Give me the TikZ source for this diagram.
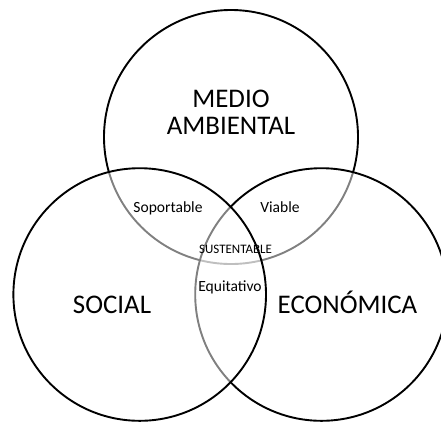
\documentclass[tikz,border=0pt]{standalone}
\usepackage{fontspec}
\setmainfont{Carlito}
\begin{document}
\begin{tikzpicture}[x=1bp,y=-1bp,
  ring/.style={draw=black,line width=1.9bp,fill=white,fill opacity=0.5},
  big/.style={font=\fontsize{27}{30}\selectfont,anchor=base,inner sep=0pt},
  small/.style={font=\fontsize{15.6}{18}\selectfont,anchor=base,inner sep=0pt},
  tiny/.style={font=\fontsize{13}{15}\selectfont,anchor=base,inner sep=0pt}]
\useasboundingbox (0,0) rectangle (441,421);
\begin{scope}
\clip (0,0) rectangle (441,421);
\draw[ring] (231,137) circle[radius=127];
\draw[ring] (321.5,294.5) circle[radius=126.3];
\draw[ring] (139.7,294.5) circle[radius=126.3];
\end{scope}
\node[big] (medio) at (231,107) {MEDIO};
\node[big] (amb) at (231,134) {AMBIENTAL};
\node[big] (social) at (112,313) {SOCIAL};
\node[big] (eco) at (347.5,313) {ECONÓMICA};
\node[small] (sop) at (168,212.7) {Soportable};
\node[small] (via) at (280,212.7) {Viable};
\node[tiny] (sus) at (235.5,253) {SUSTENTABLE};
\node[small] (equ) at (230,291) {Equitativo};
\end{tikzpicture}
\end{document}
